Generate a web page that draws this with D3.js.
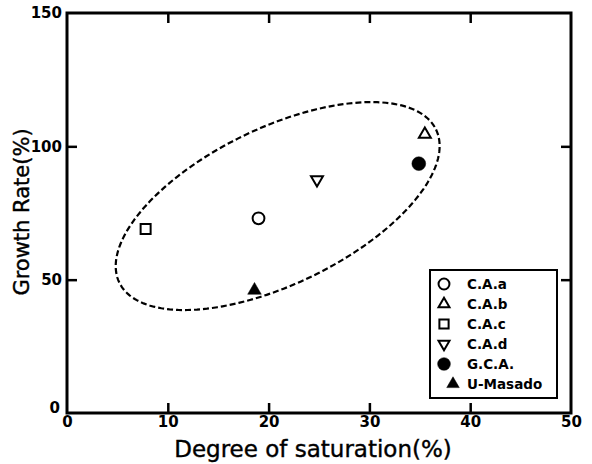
<!DOCTYPE html>
<html>
<head>
<meta charset="utf-8">
<script src="https://cdn.jsdelivr.net/npm/d3@7"></script>
<style>
  html, body { margin: 0; padding: 0; background: #fff; }
  svg { display: block; }
</style>
</head>
<body>
<svg id="chart" width="592" height="464"></svg>
<script>
// ---- data ----
const seriesNames = ["C.A.a", "C.A.b", "C.A.c", "C.A.d", "G.C.A.", "U-Masado"];
const saturation  = [19.0, 35.5, 7.8, 24.8, 34.9, 18.6];   // Degree of saturation (%)
const growthRate  = [73.0, 104.5, 69.0, 87.5, 93.5, 46.0]; // Growth Rate (%)
const xTicks = [0, 10, 20, 30, 40, 50];
const yTicks = [0, 50, 100, 150];
// dashed envelope ellipse (data units): centre, major & minor semi-axis vectors
const ellipseCenter = [20.9, 77.6];
const ellipseMajor  = [15.71, 28.7];
const ellipseMinor  = [3.37, -26.4];

// ---- layout ----
const svg = d3.select("#chart");
const x = d3.scaleLinear().domain([0, 50]).range([67, 571]);
const y = d3.scaleLinear().domain([0, 150]).range([413, 13]);
const tickFont = "'DejaVu Sans', sans-serif";

// symbol shapes
const shapes = [
  {type: d3.symbolCircle,   fill: "none", size: 110},
  {type: d3.symbolTriangle, fill: "none", size: 62, rot: 0},
  {type: d3.symbolSquare,   fill: "none", size: 100},
  {type: d3.symbolTriangle, fill: "none", size: 62, rot: 180},
  {type: d3.symbolCircle,   fill: "#000", size: 150},
  {type: d3.symbolTriangle, fill: "#000", size: 80, rot: 0}
];

// ellipse
const ellPts = d3.range(0, 361, 2).map(deg => {
  const t = deg * Math.PI / 180;
  return [
    ellipseCenter[0] + Math.cos(t) * ellipseMajor[0] + Math.sin(t) * ellipseMinor[0],
    ellipseCenter[1] + Math.cos(t) * ellipseMajor[1] + Math.sin(t) * ellipseMinor[1]
  ];
});
svg.append("path")
  .attr("d", d3.line().x(d => x(d[0])).y(d => y(d[1])).curve(d3.curveLinearClosed)(ellPts))
  .attr("fill", "none").attr("stroke", "#000").attr("stroke-width", 2.2)
  .attr("stroke-dasharray", "6,3");

// axes
const styleAxis = g => {
  g.select(".domain").remove();
  g.selectAll(".tick line").attr("stroke", "#000").attr("stroke-width", 2.5);
  g.selectAll(".tick text").attr("font-family", tickFont).attr("font-weight", "bold")
    .attr("font-size", 15).attr("fill", "#000");
};
const tickFilterX = d => d > 0 && d < 50;
const tickFilterY = d => d > 0 && d < 150;

svg.append("g").attr("transform", `translate(0,${y(0)})`)
  .call(d3.axisBottom(x).tickValues(xTicks).tickFormat(d3.format("d")).tickSizeInner(-10).tickSizeOuter(0).tickPadding(3))
  .call(styleAxis)
  .call(g => g.selectAll(".tick").filter(d => !tickFilterX(d)).select("line").remove());

svg.append("g").attr("transform", `translate(0,${y(150)})`)
  .call(d3.axisTop(x).tickValues(xTicks.filter(tickFilterX)).tickFormat("").tickSizeInner(-10).tickSizeOuter(0))
  .call(styleAxis);

svg.append("g").attr("transform", `translate(${x(0)},0)`)
  .call(d3.axisLeft(y).tickValues(yTicks).tickFormat(d3.format("d")).tickSizeInner(-10).tickSizeOuter(0).tickPadding(5))
  .call(styleAxis)
  .call(g => g.selectAll(".tick").filter(d => !tickFilterY(d)).select("line").remove())
  .call(g => g.selectAll(".tick").filter(d => d === 0).select("text").attr("x", -7).attr("dy", "-0.05em"));

svg.append("g").attr("transform", `translate(${x(50)},0)`)
  .call(d3.axisRight(y).tickValues(yTicks.filter(tickFilterY)).tickFormat("").tickSizeInner(-10).tickSizeOuter(0))
  .call(styleAxis);

// frame
svg.append("rect")
  .attr("x", x(0)).attr("y", y(150)).attr("width", x(50) - x(0)).attr("height", y(0) - y(150))
  .attr("fill", "none").attr("stroke", "#000").attr("stroke-width", 3);

// points
svg.append("g").selectAll("path").data(seriesNames).join("path")
  .attr("transform", (d, i) => `translate(${x(saturation[i])},${y(growthRate[i])}) rotate(${shapes[i].rot || 0})`)
  .attr("d", (d, i) => d3.symbol().type(shapes[i].type).size(shapes[i].size)())
  .attr("fill", (d, i) => shapes[i].fill)
  .attr("stroke", "#000").attr("stroke-width", (d, i) => shapes[i].fill === "none" ? 2 : 0.5);

// legend
const lg = svg.append("g");
lg.append("rect").attr("x", 430).attr("y", 270).attr("width", 127).attr("height", 128)
  .attr("fill", "#fff").attr("stroke", "#000").attr("stroke-width", 2);
const legRowY = i => 284 + i * 20;
lg.selectAll("path").data(seriesNames).join("path")
  .attr("transform", (d, i) => `translate(${i === 5 ? 453 : 444},${legRowY(i)}) rotate(${shapes[i].rot || 0})`)
  .attr("d", (d, i) => d3.symbol().type(shapes[i].type).size(shapes[i].size * 0.85)())
  .attr("fill", (d, i) => shapes[i].fill)
  .attr("stroke", "#000").attr("stroke-width", (d, i) => shapes[i].fill === "none" ? 2 : 0.5);
lg.selectAll("text").data(seriesNames).join("text")
  .attr("x", 467).attr("y", (d, i) => legRowY(i)).attr("dy", "0.36em")
  .attr("font-family", tickFont).attr("font-weight", "bold").attr("font-size", 13.5)
  .text(d => d);

// axis titles
svg.append("text").attr("x", 313).attr("y", 457).attr("text-anchor", "middle")
  .attr("font-family", tickFont).attr("font-size", 23).attr("fill", "#000")
  .attr("stroke", "#000").attr("stroke-width", 0.4)
  .text("Degree of saturation(%)");
svg.append("text").attr("transform", "translate(29,212) rotate(-90)").attr("text-anchor", "middle")
  .attr("font-family", tickFont).attr("font-size", 21).attr("fill", "#000")
  .attr("stroke", "#000").attr("stroke-width", 0.4)
  .text("Growth Rate(%)");
</script>
</body>
</html>
